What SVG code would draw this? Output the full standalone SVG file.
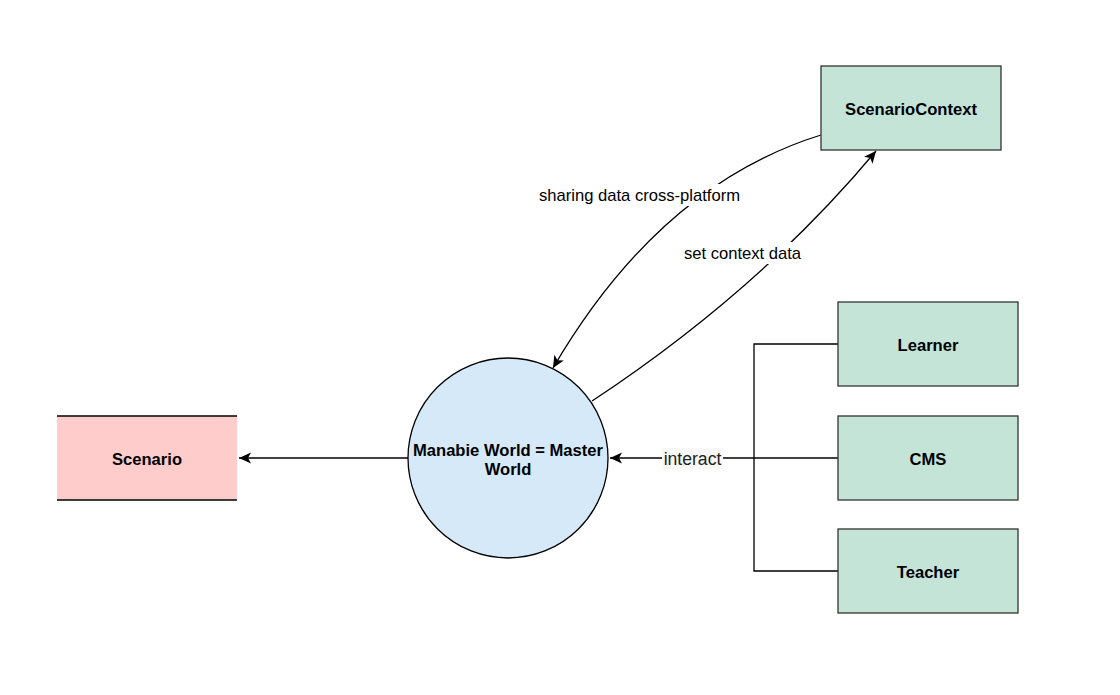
<svg xmlns="http://www.w3.org/2000/svg" width="1120" height="695" viewBox="0 0 1120 695">
<style>
text{font-family:"Liberation Sans",Arial,sans-serif;fill:#000}
.b{font-weight:bold;font-size:16.6px;text-anchor:middle}
.l{font-size:16.6px;text-anchor:middle}
.box{fill:#C5E4D8;stroke:#333;stroke-width:1.3}
.c{fill:none;stroke:#000;stroke-width:1.3}
</style>
<defs>
<marker id="arr" markerUnits="userSpaceOnUse" markerWidth="16" markerHeight="14" viewBox="-14 -7 16 14" refX="0" refY="0" orient="auto">
<path d="M0,0 L-12,-5.5 L-9,0 L-12,5.5 Z" fill="#000"/>
</marker>
</defs>
<rect width="1120" height="695" fill="#fff"/>
<g id="connectors">
<path class="c" d="M408,458 L239,458" marker-end="url(#arr)"/>
<path class="c" d="M838,458 L610,458" marker-end="url(#arr)"/>
<path class="c" d="M838,344 L754,344 L754,458"/>
<path class="c" d="M838,571 L754,571 L754,458"/>
<path class="c" d="M821,135 Q660,185 553,368" marker-end="url(#arr)"/>
<path class="c" d="M592,401 Q760,290 876,151" marker-end="url(#arr)"/>
<rect x="536" y="184" width="207" height="22" fill="#fff"/>
<text class="l" x="639.5" y="201">sharing data cross-platform</text>
<rect x="682" y="242" width="121" height="22" fill="#fff"/>
<text class="l" x="742.5" y="259">set context data</text>
<rect x="662" y="448" width="61" height="21" fill="#f8f8f8"/>
<text x="692.5" y="465" style="font-size:17.6px;text-anchor:middle;fill:#222">interact</text>
</g>
<g id="scenario">
<rect x="57" y="416" width="180" height="84" fill="#FFCCCC"/>
<path d="M57,416 H237 M57,500 H237" stroke="#000" stroke-width="1.3"/>
<text class="b" x="147" y="464.5">Scenario</text>
</g>
<g id="manabie-world">
<circle cx="508" cy="458" r="100" fill="#D5E9F8" stroke="#000" stroke-width="1.3"/>
<text class="b" x="508" y="456">Manabie World = Master</text>
<text class="b" x="508" y="474.5">World</text>
</g>
<g id="scenario-context">
<rect class="box" x="821" y="66" width="180" height="84"/>
<text class="b" x="911" y="115">ScenarioContext</text>
</g>
<g id="learner">
<rect class="box" x="838" y="302" width="180" height="84"/>
<text class="b" x="928" y="351">Learner</text>
</g>
<g id="cms">
<rect class="box" x="838" y="416" width="180" height="84"/>
<text class="b" x="928" y="465">CMS</text>
</g>
<g id="teacher">
<rect class="box" x="838" y="529" width="180" height="84"/>
<text class="b" x="928" y="578">Teacher</text>
</g>
</svg>
